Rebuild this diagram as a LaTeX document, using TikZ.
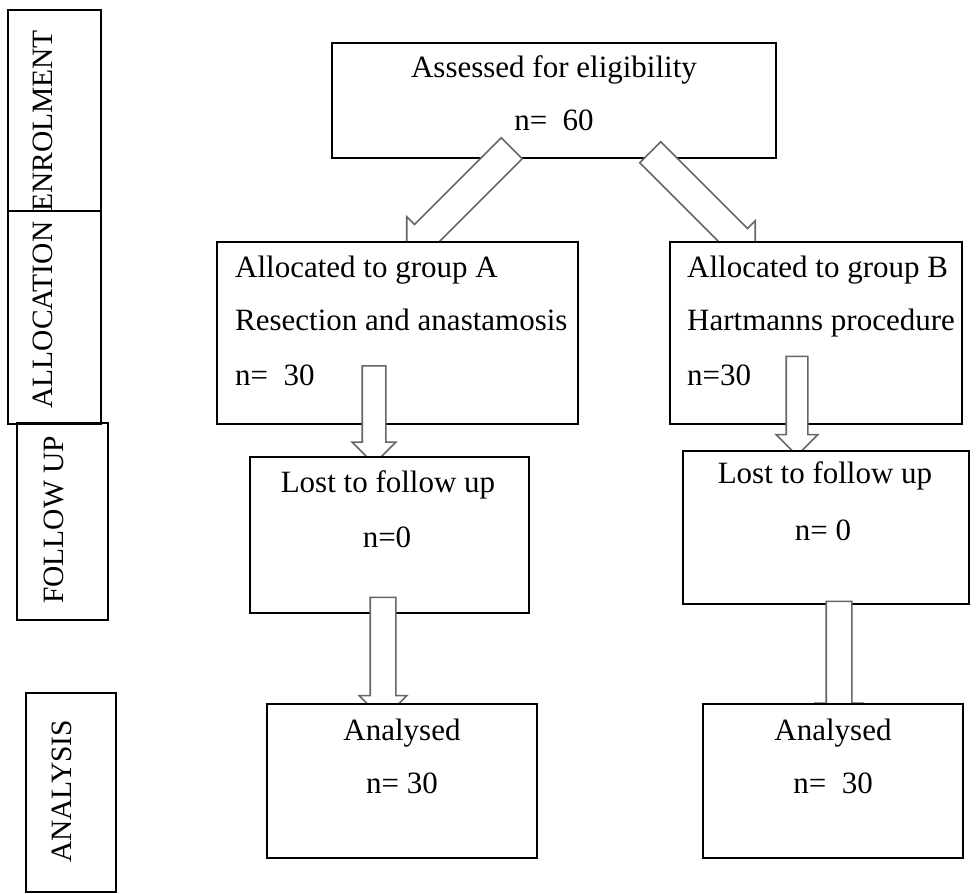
\documentclass[tikz,border=0pt]{standalone}
\usepackage{fontspec}
\setmainfont{Liberation Serif}
\usetikzlibrary{calc, shapes.arrows}

\newcommand{\boxfont}{\fontsize{31}{37}\selectfont}
\newcommand{\sidefont}{\fontsize{29.5}{35}\selectfont}
% block arrow from one coordinate to another
\newcommand{\blockarrow}[5]{%
  \path let \p1=($(#3)-(#2)$), \n1={atan2(\y1,\x1)}, \n2={veclen(\x1,\y1)} in
    node[blockarr={#4}{#5}, minimum height=\n2, rotate=\n1] (#1) at ($(#2)!0.5!(#3)$) {};}

\begin{document}
\begin{tikzpicture}[x=1pt, y=-1pt]
  \tikzstyle{box}=[draw, line width=1.3pt, fill=white, inner sep=0pt]
  \tikzstyle{sidebox}=[draw, line width=1.3pt, inner sep=0pt]
  \tikzstyle{sidelabel}=[rotate=90, inner sep=0pt, font=\sidefont]
  \tikzstyle{txt}=[anchor=base west, inner sep=0pt, font=\boxfont]
  \tikzstyle{ctxt}=[anchor=base, inner sep=0pt, font=\boxfont]
  \tikzset{blockarr/.style 2 args={single arrow, draw=black!60, line width=1.6pt,
      fill=white, inner xsep=0pt, inner ysep=#1, minimum width=0pt,
      single arrow head extend=#2, outer sep=0pt}}

  \useasboundingbox (0,0) rectangle (977,894);

  % phases on the left
  \node[sidebox, minimum width=93, minimum height=201] (enrolbox) at (54.5,110.5) {};
  \node[sidebox, minimum width=93, minimum height=213] (allocbox) at (54.5,317.5) {};
  \node[sidebox, minimum width=91, minimum height=197] (followbox) at (62.5,521.5) {};
  \node[sidebox, minimum width=90, minimum height=199] (analysisbox) at (71,792.5) {};
  \node[sidelabel] (enrol) at (42.5,121) {ENROLMENT};
  \node[sidelabel] (alloc) at (42.5,315) {ALLOCATION};
  \node[sidelabel] (follow) at (54,520) {FOLLOW UP};
  \node[sidelabel] (analysis) at (62,791.5) {ANALYSIS};

  % enrolment
  \node[box, minimum width=444, minimum height=115] (assess) at (554,100.5) {};
  \node[ctxt] (assess1) at (554,77) {Assessed for eligibility};
  \node[ctxt] (assess2) at (554,130) {n=~~60};

  \coordinate (tailA) at (517,143);
  \coordinate (tipA) at (412,248);
  \coordinate (tailB) at (645,147);
  \coordinate (tipB) at (750,252);
  \blockarrow{toA}{tailA}{tipA}{14pt}{11pt}
  \blockarrow{toB}{tailB}{tipB}{14pt}{11pt}

  % allocation
  \node[box, minimum width=361, minimum height=182] (groupA) at (397.5,333) {};
  \node[box, minimum width=292, minimum height=182] (groupB) at (816,333) {};
  \node[txt] (groupA1) at (235,277) {Allocated to group A};
  \node[txt] (groupA2) at (235,330) {Resection and anastamosis};
  \node[txt] (groupA3) at (235,385) {n=~~30};
  \node[txt] (groupB1) at (687,277) {Allocated to group B};
  \node[txt] (groupB2) at (687,330) {Hartmanns procedure};
  \node[txt] (groupB3) at (687,385) {n=30};

  \coordinate (tailA1) at (374,360);
  \coordinate (tipA1) at (374,458);
  \coordinate (tailB1) at (797,351);
  \coordinate (tipB1) at (797,450);
  \blockarrow{lostArr}{tailA1}{tipA1}{11pt}{10pt}
  \blockarrow{lostBrr}{tailB1}{tipB1}{10pt}{10pt}

  % follow up
  \node[box, minimum width=279, minimum height=156] (lostA) at (389.5,535) {};
  \node[box, minimum width=286, minimum height=153] (lostB) at (826,527.5) {};
  \node[ctxt] (lostA1) at (388,492) {Lost to follow up};
  \node[ctxt] (lostA2) at (387,547) {n=0};
  \node[ctxt] (lostB1) at (825,483) {Lost to follow up};
  \node[ctxt] (lostB2) at (823,540) {n= 0};

  \coordinate (tailA2) at (383,591);
  \coordinate (tipA2) at (383,713);
  \coordinate (tailB2) at (839,595);
  \coordinate (tipB2) at (839,720);
  \blockarrow{anaArr}{tailA2}{tipA2}{12pt}{11pt}
  \blockarrow{anaBrr}{tailB2}{tipB2}{12pt}{10.5pt}

  % analysis
  \node[box, minimum width=270, minimum height=154] (anaA) at (402,781) {};
  \node[box, minimum width=260, minimum height=154] (anaB) at (833,781) {};
  \node[ctxt] (anaA1) at (402,740) {Analysed};
  \node[ctxt] (anaA2) at (402,793) {n= 30};
  \node[ctxt] (anaB1) at (833,740) {Analysed};
  \node[ctxt] (anaB2) at (833,793) {n=~~30};
\end{tikzpicture}
\end{document}
